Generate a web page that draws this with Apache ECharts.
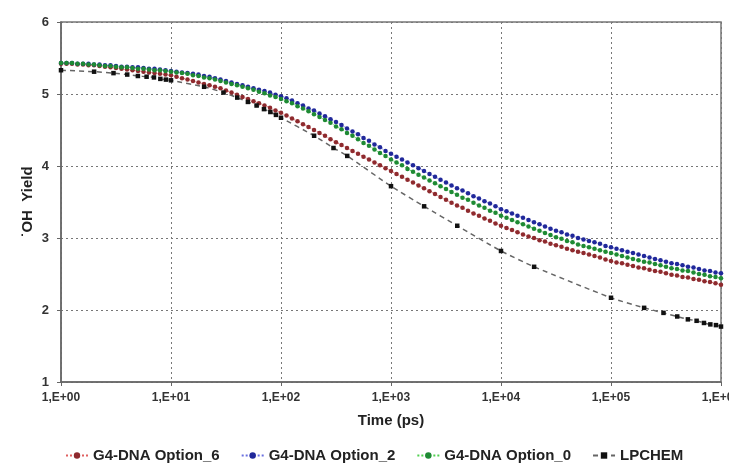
<!DOCTYPE html>
<html>
<head>
<meta charset="UTF-8">
<script src="https://cdn.jsdelivr.net/npm/echarts@6.0.0/dist/echarts.min.js"></script>
<style>
    html, body { margin: 0; padding: 0; background: #fff; }
    #chart { width: 729px; height: 469px; }
</style>
</head>
<body>
<div id="chart"></div>
<script>
// log10 of time (ps) for the G4-DNA runs
var logTime = [
    0, 0.05, 0.1, 0.15, 0.2, 0.25, 0.3, 0.35, 0.4, 0.45, 0.5,
    0.55, 0.6, 0.65, 0.7, 0.75, 0.8, 0.85, 0.9, 0.95, 1,
    1.05, 1.1, 1.15, 1.2, 1.25, 1.3, 1.35, 1.4, 1.45, 1.5,
    1.55, 1.6, 1.65, 1.7, 1.75, 1.8, 1.85, 1.9, 1.95, 2,
    2.05, 2.1, 2.15, 2.2, 2.25, 2.3, 2.35, 2.4, 2.45, 2.5,
    2.55, 2.6, 2.65, 2.7, 2.75, 2.8, 2.85, 2.9, 2.95, 3,
    3.05, 3.1, 3.15, 3.2, 3.25, 3.3, 3.35, 3.4, 3.45, 3.5,
    3.55, 3.6, 3.65, 3.7, 3.75, 3.8, 3.85, 3.9, 3.95, 4,
    4.05, 4.1, 4.15, 4.2, 4.25, 4.3, 4.35, 4.4, 4.45, 4.5,
    4.55, 4.6, 4.65, 4.7, 4.75, 4.8, 4.85, 4.9, 4.95, 5,
    5.05, 5.1, 5.15, 5.2, 5.25, 5.3, 5.35, 5.4, 5.45, 5.5,
    5.55, 5.6, 5.65, 5.7, 5.75, 5.8, 5.85, 5.9, 5.95, 6
];
var option6 = [
    5.42, 5.42, 5.42, 5.41, 5.41, 5.40, 5.40, 5.39, 5.38, 5.37, 5.36,
    5.35, 5.34, 5.33, 5.32, 5.31, 5.30, 5.29, 5.28, 5.27, 5.26,
    5.24, 5.22, 5.20, 5.18, 5.16, 5.14, 5.12, 5.10, 5.08, 5.05,
    5.02, 4.99, 4.96, 4.93, 4.90, 4.87, 4.84, 4.81, 4.77, 4.74,
    4.70, 4.66, 4.62, 4.58, 4.54, 4.50, 4.46, 4.42, 4.37, 4.33,
    4.29, 4.25, 4.21, 4.17, 4.13, 4.09, 4.05, 4.01, 3.97, 3.93,
    3.89, 3.85, 3.81, 3.77, 3.73, 3.69, 3.65, 3.61, 3.57, 3.53,
    3.49, 3.45, 3.42, 3.38, 3.34, 3.31, 3.27, 3.24, 3.20, 3.17,
    3.14, 3.11, 3.08, 3.05, 3.02, 3.00, 2.97, 2.95, 2.92, 2.90,
    2.88, 2.85, 2.83, 2.81, 2.79, 2.77, 2.75, 2.73, 2.70, 2.68,
    2.66, 2.65, 2.63, 2.61, 2.59, 2.58, 2.56, 2.54, 2.53, 2.51,
    2.49, 2.48, 2.46, 2.45, 2.43, 2.42, 2.40, 2.39, 2.37, 2.35
];
var option2 = [
    5.43, 5.43, 5.43, 5.42, 5.42, 5.42, 5.41, 5.41, 5.40, 5.40, 5.39,
    5.38, 5.38, 5.37, 5.37, 5.36, 5.35, 5.35, 5.34, 5.33, 5.32,
    5.31, 5.30, 5.29, 5.28, 5.27, 5.25, 5.24, 5.22, 5.20, 5.18,
    5.16, 5.14, 5.12, 5.10, 5.08, 5.06, 5.04, 5.02, 4.99, 4.97,
    4.94, 4.91, 4.87, 4.84, 4.80, 4.77, 4.73, 4.69, 4.65, 4.61,
    4.57, 4.52, 4.48, 4.44, 4.39, 4.35, 4.30, 4.26, 4.21, 4.17,
    4.13, 4.09, 4.05, 4.01, 3.97, 3.93, 3.89, 3.85, 3.81, 3.77,
    3.73, 3.69, 3.66, 3.62, 3.58, 3.55, 3.51, 3.48, 3.44, 3.40,
    3.37, 3.34, 3.31, 3.28, 3.25, 3.22, 3.19, 3.16, 3.13, 3.10,
    3.08, 3.05, 3.03, 3.00, 2.98, 2.96, 2.94, 2.92, 2.89, 2.87,
    2.85, 2.83, 2.81, 2.79, 2.77, 2.75, 2.73, 2.71, 2.69, 2.67,
    2.65, 2.64, 2.62, 2.60, 2.59, 2.57, 2.55, 2.54, 2.52, 2.51
];
var option0 = [
    5.43, 5.43, 5.43, 5.42, 5.42, 5.41, 5.41, 5.40, 5.39, 5.39, 5.38,
    5.37, 5.37, 5.36, 5.35, 5.35, 5.34, 5.33, 5.33, 5.32, 5.31,
    5.30, 5.29, 5.28, 5.26, 5.25, 5.23, 5.22, 5.20, 5.18, 5.16,
    5.14, 5.12, 5.10, 5.08, 5.06, 5.03, 5.01, 4.98, 4.96, 4.93,
    4.90, 4.87, 4.83, 4.80, 4.76, 4.72, 4.68, 4.64, 4.60, 4.55,
    4.51, 4.46, 4.42, 4.37, 4.32, 4.28, 4.23, 4.18, 4.14, 4.09,
    4.05, 4.01, 3.96, 3.92, 3.88, 3.84, 3.80, 3.76, 3.72, 3.68,
    3.64, 3.60, 3.56, 3.53, 3.49, 3.45, 3.42, 3.38, 3.35, 3.31,
    3.28, 3.25, 3.22, 3.19, 3.16, 3.13, 3.10, 3.07, 3.04, 3.01,
    2.99, 2.96, 2.94, 2.91, 2.89, 2.87, 2.85, 2.83, 2.81, 2.79,
    2.77, 2.75, 2.73, 2.71, 2.69, 2.67, 2.66, 2.64, 2.62, 2.60,
    2.58, 2.57, 2.55, 2.54, 2.52, 2.50, 2.49, 2.47, 2.46, 2.44
];
// LPCHEM points (time in ps)
var lpTime = [1, 2, 3, 4, 5, 6, 7, 8, 9, 10, 20, 30, 40, 50, 60, 70, 80, 90, 100,
    200, 300, 400, 1000, 2000, 4000, 10000, 20000, 100000, 200000, 300000,
    400000, 500000, 600000, 700000, 800000, 900000, 1000000];
var lpYield = [5.33, 5.31, 5.29, 5.27, 5.25, 5.24, 5.23, 5.21, 5.20, 5.19, 5.10, 5.02, 4.95, 4.89, 4.84, 4.79, 4.75, 4.71, 4.67,
    4.42, 4.25, 4.14, 3.72, 3.44, 3.17, 2.82, 2.60, 2.17, 2.03, 1.96,
    1.91, 1.87, 1.85, 1.82, 1.80, 1.79, 1.77];

var seriesNames = ['G4-DNA Option_6', 'G4-DNA Option_2', 'G4-DNA Option_0', 'LPCHEM'];
var yTicks = [1, 2, 3, 4, 5, 6];

function pairs(xs, ys, useLog) {
    var out = [];
    for (var i = 0; i < xs.length; i++) {
        out.push([useLog ? Math.pow(10, xs[i]) : xs[i], ys[i]]);
    }
    return out;
}

var lblFont = 'Liberation Sans, Arial, sans-serif';

function g4Series(name, values, dotColor, lineColor) {
    return {
        name: name,
        type: 'line',
        data: pairs(logTime, values, true),
        symbol: 'circle',
        symbolSize: 4.5,
        itemStyle: { color: dotColor },
        lineStyle: { color: lineColor, width: 1, type: 'dotted' }
    };
}

var chart = echarts.init(document.getElementById('chart'));
chart.setOption({
    animation: false,
    backgroundColor: '#fff',
    grid: {
        left: 61, right: 8, top: 22, bottom: 87,
        outerBoundsMode: 'none',
        show: true, borderColor: '#777', borderWidth: 1.5
    },
    legend: {
        data: seriesNames,
        left: 60,
        top: 443,
        itemWidth: 22,
        itemHeight: 8,
        itemGap: 21,
        textStyle: { fontFamily: lblFont, fontSize: 15, fontWeight: 'bold', color: '#222' }
    },
    xAxis: {
        type: 'log',
        logBase: 10,
        min: 1,
        max: 1000000,
        name: 'Time (ps)',
        nameLocation: 'middle',
        nameGap: 31,
        nameMoveOverlap: false,
        nameTextStyle: { fontFamily: lblFont, fontSize: 15, fontWeight: 'bold', color: '#222' },
        axisLine: { lineStyle: { color: '#666', width: 1.5 } },
        axisTick: { show: true, length: 4, lineStyle: { color: '#666' } },
        minorTick: { show: false },
        axisLabel: {
            margin: 10,
            fontFamily: lblFont, fontSize: 12, fontWeight: 'bold', color: '#333',
            formatter: function (v) {
                var e = Math.round(Math.log10(v));
                return '1,E+' + (e < 10 ? '0' + e : e);
            }
        },
        splitLine: { show: true, lineStyle: { color: '#777', type: [2, 3], width: 1 } }
    },
    yAxis: {
        type: 'value',
        min: yTicks[0],
        max: yTicks[yTicks.length - 1],
        interval: 1,
        name: '\u02D9OH  Yield',
        nameLocation: 'middle',
        nameGap: 26,
        nameMoveOverlap: false,
        nameTextStyle: { fontFamily: lblFont, fontSize: 15, fontWeight: 'bold', color: '#222' },
        axisLine: { show: true, lineStyle: { color: '#666', width: 1.5 } },
        axisTick: { show: true, length: 4, lineStyle: { color: '#666' } },
        axisLabel: { margin: 12, fontFamily: lblFont, fontSize: 13, fontWeight: 'bold', color: '#333' },
        splitLine: { show: true, lineStyle: { color: '#777', type: [2, 3], width: 1 } }
    },
    series: [
        g4Series(seriesNames[0], option6, '#8e2a2e', '#e06060'),
        g4Series(seriesNames[1], option2, '#20289a', '#6a70e0'),
        g4Series(seriesNames[2], option0, '#1e8a34', '#50d050'),
        {
            name: seriesNames[3],
            type: 'line',
            data: pairs(lpTime, lpYield, false),
            symbol: 'rect',
            symbolSize: 4.5,
            smooth: 0.2,
            itemStyle: { color: '#111' },
            lineStyle: { color: '#666', width: 1.5, type: [5, 4] }
        }
    ]
});
</script>
</body>
</html>
